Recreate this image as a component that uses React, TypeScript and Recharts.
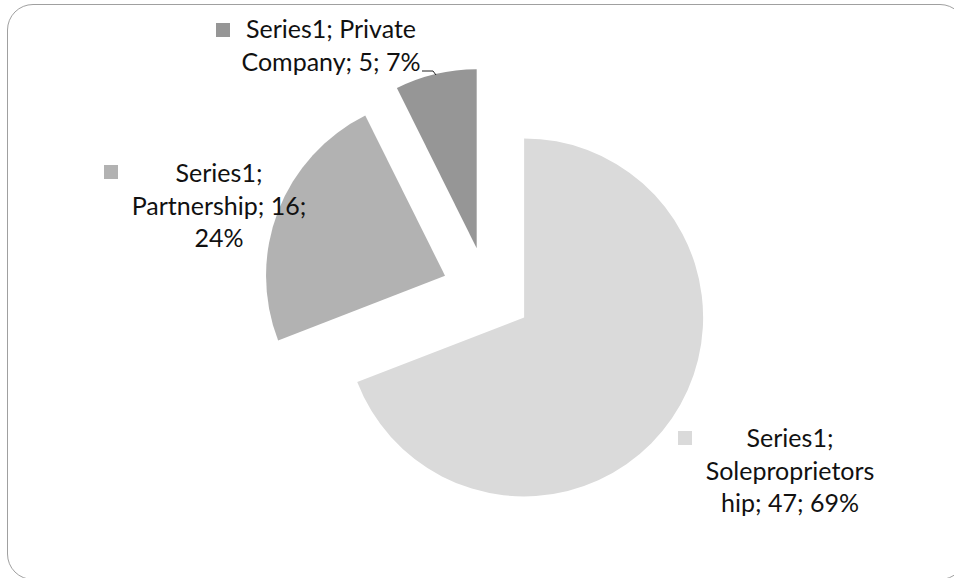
import React from 'react';
import { PieChart, Pie, Cell, Sector } from 'recharts';

const SERIES_NAME = 'Series1';
const CATEGORIES = ['Soleproprietorship', 'Partnership', 'Private Company'];
const VALUES = [47, 16, 5];
const COLORS = ['#dadada', '#b2b2b2', '#969696'];

const data = CATEGORIES.map((name, i) => ({ name, value: VALUES[i] }));

// layout (not data)
const W = 954;
const H = 578;
const CX = 487;
const CY = 292;
const R = 179;
const EXPLODE = 45;
const FONT_FAMILY = 'Lato';
const FONT_SIZE = 25;
const LINE_H = 32.5;
const SQ = 14;
// each data-label box: text centre, first baseline, box width, legend key position
const LABEL_POS = [
  { x: 790, y: 447, w: 177, sqX: 678, sqY: 431 },
  { x: 219, y: 182, w: 185, sqX: 104, sqY: 165 },
  { x: 331, y: 38, w: 186, sqX: 216, sqY: 23 },
];
const LEADERS: Record<number, number[][]> = {
  2: [[422, 71], [433, 71], [436, 75]],
};

let ctx: CanvasRenderingContext2D | null = null;
function measure(s: string) {
  if (!ctx) {
    ctx = document.createElement('canvas').getContext('2d');
  }
  if (!ctx) return s.length * FONT_SIZE * 0.5;
  ctx.font = `${FONT_SIZE}px ${FONT_FAMILY}`;
  return ctx.measureText(s).width;
}

function wrap(text: string, maxW: number) {
  const words = text.split(' ');
  const lines: string[] = [];
  let cur = '';
  for (const word of words) {
    const cand = cur ? cur + ' ' + word : word;
    if (measure(cand) <= maxW) {
      cur = cand;
      continue;
    }
    if (cur) lines.push(cur);
    cur = '';
    let rest = word;
    while (measure(rest) > maxW) {
      let k = rest.length - 1;
      while (k > 1 && measure(rest.slice(0, k)) > maxW) k--;
      lines.push(rest.slice(0, k));
      rest = rest.slice(k);
    }
    cur = rest;
  }
  if (cur) lines.push(cur);
  return lines;
}

const ExplodedSector = (props: any) => {
  const { cx, cy, midAngle } = props;
  const rad = (-midAngle * Math.PI) / 180;
  return (
    <Sector
      {...props}
      cx={cx + EXPLODE * Math.cos(rad)}
      cy={cy + EXPLODE * Math.sin(rad)}
      stroke="none"
    />
  );
};

const renderLabel = (props: any) => {
  const { index, name, value, percent } = props;
  const pos = LABEL_POS[index];
  const text = `${SERIES_NAME}; ${name}; ${value}; ${Math.round(percent * 100)}%`;
  const lines = wrap(text, pos.w);
  const leader = LEADERS[index];
  return (
    <g key={`lbl-${index}`}>
      <rect x={pos.sqX} y={pos.sqY} width={SQ} height={SQ} fill={COLORS[index]} />
      <text
        x={pos.x}
        y={pos.y}
        textAnchor="middle"
        fontFamily={FONT_FAMILY}
        fontSize={FONT_SIZE}
        fill="#111"
      >
        {lines.map((l, i) => (
          <tspan key={i} x={pos.x} y={pos.y + i * LINE_H}>
            {l}
          </tspan>
        ))}
      </text>
      {leader && (
        <polyline
          points={leader.map((p) => p.join(',')).join(' ')}
          fill="none"
          stroke="#222"
          strokeWidth={1}
        />
      )}
    </g>
  );
};

export default function App() {
  return (
    <div
      style={{
        position: 'absolute',
        left: 0,
        top: 0,
        width: W,
        height: H,
        overflow: 'hidden',
        background: '#fff',
      }}
    >
      <div
        style={{
          position: 'absolute',
          left: 7,
          top: 4,
          width: 959,
          height: 576,
          border: '1px solid #a0a0a0',
          borderRadius: 26,
          boxSizing: 'border-box',
        }}
      />
      <div style={{ position: 'absolute', left: 0, top: 0 }}>
        <PieChart width={W} height={H} margin={{ top: 0, right: 0, bottom: 0, left: 0 }}>
          <Pie
            data={data}
            dataKey="value"
            nameKey="name"
            cx={CX}
            cy={CY}
            outerRadius={R}
            innerRadius={0}
            startAngle={90}
            endAngle={-270}
            stroke="none"
            isAnimationActive={false}
            shape={ExplodedSector}
            label={renderLabel}
            labelLine={false}
          >
            {data.map((d, i) => (
              <Cell key={d.name} fill={COLORS[i]} stroke="none" />
            ))}
          </Pie>
        </PieChart>
      </div>
    </div>
  );
}
